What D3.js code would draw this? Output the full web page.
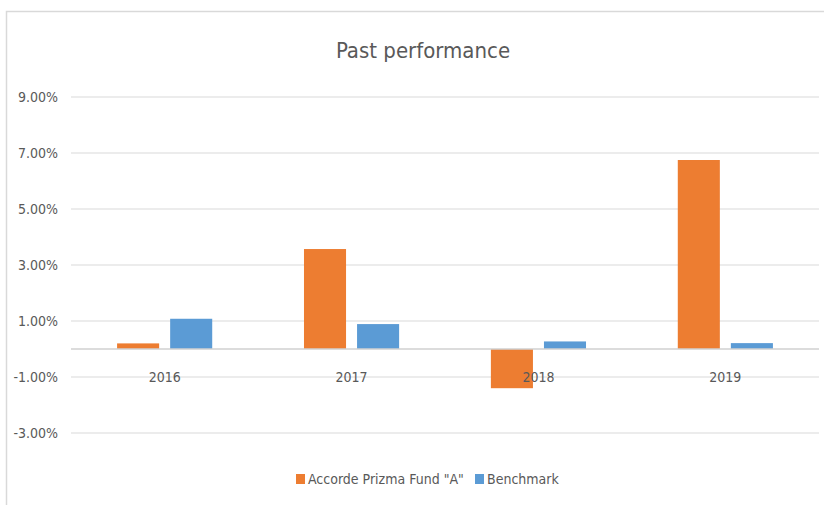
<!DOCTYPE html>
<html>
<head>
<meta charset="utf-8">
<script src="https://cdn.jsdelivr.net/npm/d3@7"></script>
<style>
  html, body { margin: 0; padding: 0; background: #fff; }
  svg text {
    font-family: "Liberation Sans Narrow", "DejaVu Sans Condensed", "DejaVu Sans", sans-serif;
    font-stretch: condensed;
    fill: #595959;
  }
</style>
</head>
<body>
<svg id="chart" width="824" height="505"></svg>
<script>
// chart data
const years = ["2016", "2017", "2018", "2019"];
const seriesNames = ["Accorde Prizma Fund \"A\"", "Benchmark"];
const fundValues = [0.20, 3.57, -1.40, 6.75];
const benchValues = [1.08, 0.89, 0.27, 0.21];
const tickValues = [-3, -1, 1, 3, 5, 7, 9];
const colors = ["#ED7D31", "#5B9BD5"];

const svg = d3.select("#chart");

// outer chart border (cropped on right/bottom)
svg.append("rect")
    .attr("x", 6.5).attr("y", 11.5)
    .attr("width", 840).attr("height", 520)
    .attr("fill", "#fff")
    .attr("stroke", "#D9D9D9")
    .attr("stroke-width", 1.5);

// scales
const x0 = d3.scaleBand()
    .domain(years)
    .range([71.2, 818.8])
    .paddingInner(0.491)
    .paddingOuter(0.2455);

const x1 = d3.scaleBand()
    .domain(seriesNames)
    .range([0, x0.bandwidth()])
    .paddingInner(0.2075);

const y = d3.scaleLinear()
    .domain([-3, 9])
    .range([433, 97]);

// gridlines
svg.append("g")
    .selectAll("line")
    .data(tickValues)
    .join("line")
    .attr("x1", 71).attr("x2", 819)
    .attr("y1", d => y(d)).attr("y2", d => y(d))
    .attr("stroke", "#D9D9D9")
    .attr("stroke-width", 1);

// y tick labels (plain hyphen for negatives, like Excel)
svg.append("g")
    .selectAll("text")
    .data(tickValues)
    .join("text")
    .attr("x", 58)
    .attr("y", d => y(d))
    .attr("dy", "0.35em")
    .attr("text-anchor", "end")
    .style("font-size", "14px")
    .text(d => d.toFixed(2) + "%");

// bars
const rows = years.map((yr, i) => ({ year: yr, values: [fundValues[i], benchValues[i]] }));

const groups = svg.append("g")
    .selectAll("g")
    .data(rows)
    .join("g")
    .attr("transform", d => `translate(${x0(d.year)},0)`);

groups.selectAll("rect")
    .data(d => d.values.map((v, k) => ({ key: seriesNames[k], value: v, k: k })))
    .join("rect")
    .attr("x", d => x1(d.key))
    .attr("width", x1.bandwidth())
    .attr("y", d => y(Math.max(0, d.value)))
    .attr("height", d => Math.abs(y(d.value) - y(0)))
    .attr("fill", d => colors[d.k]);

// zero axis line
svg.append("line")
    .attr("x1", 71).attr("x2", 819)
    .attr("y1", y(0)).attr("y2", y(0))
    .attr("stroke", "#D0D0D0")
    .attr("stroke-width", 1.5);

// category labels (sit at the bottom-of-axis position near -1%)
svg.append("g")
    .selectAll("text")
    .data(years)
    .join("text")
    .attr("x", d => x0(d) + x0.bandwidth() / 2)
    .attr("y", y(-1))
    .attr("dy", "0.35em")
    .attr("text-anchor", "middle")
    .style("font-size", "14px")
    .text(d => d);

// title
svg.append("text")
    .attr("x", 423)
    .attr("y", 58)
    .attr("text-anchor", "middle")
    .style("font-size", "22px")
    .text("Past performance");

// legend
const legendX = [296, 475];
const legend = svg.append("g")
    .selectAll("g")
    .data(seriesNames)
    .join("g")
    .attr("transform", (d, i) => `translate(${legendX[i]},474)`);

legend.append("rect")
    .attr("width", 9).attr("height", 10)
    .attr("fill", (d, i) => colors[i]);

legend.append("text")
    .attr("x", 12)
    .attr("y", 5)
    .attr("dy", "0.35em")
    .style("font-size", "14px")
    .text(d => d);
</script>
</body>
</html>
